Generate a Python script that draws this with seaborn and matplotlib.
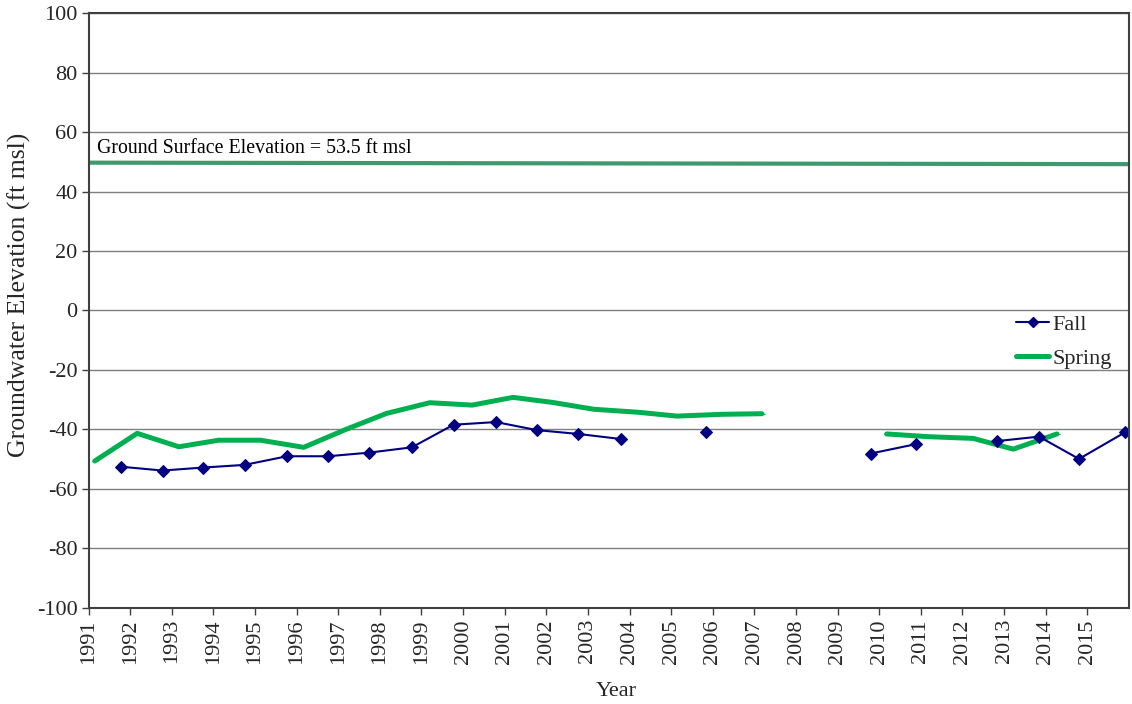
import numpy as np
import pandas as pd
import matplotlib
matplotlib.use("Agg")
import matplotlib.pyplot as plt
from matplotlib.lines import Line2D
import seaborn as sns

# Fall measurements (decimal year, ft msl); NaN marks a missed survey
fall_year = [1991.77, 1992.78, 1993.75, 1994.75, 1995.77, 1996.75, 1997.73, 1998.77,
             1999.77, 2000.79, 2001.77, 2002.77, 2003.79, 2004.80, 2005.84, 2006.80,
             2007.80, 2008.80, 2009.79, 2010.89, 2011.80, 2012.83, 2013.84, 2014.80,
             2015.90]
fall_elev = [-52.5, -53.8, -52.8, -51.9, -49.0, -49.0, -47.8, -46.0,
             -38.4, -37.5, -40.2, -41.5, -43.2, np.nan, -40.8, np.nan,
             np.nan, np.nan, -48.1, -44.9, np.nan, -43.9, -42.4, -49.9,
             -41.0]

# Spring measurements
spring_year = [1991.15, 1992.17, 1993.17, 1994.13, 1995.13, 1996.17, 1997.18, 1998.16,
               1999.20, 2000.22, 2001.20, 2002.15, 2003.14, 2004.20, 2005.14, 2006.21,
               2007.18, 2008.20, 2009.20, 2010.18, 2011.16, 2012.26, 2013.22, 2014.27]
spring_elev = [-50.6, -41.3, -45.8, -43.6, -43.6, -46.0, -40.0, -34.6,
               -31.0, -31.8, -29.2, -30.9, -33.2, -34.2, -35.5, -34.9,
               -34.7, np.nan, np.nan, -41.5, -42.4, -43.0, -46.6, -41.5]

# Ground surface reference line
ground_year = [1991.0, 2016.0]
ground_elev = [49.7, 49.2]
ground_label = "Ground Surface Elevation = 53.5 ft msl"

year_ticks = list(range(1991, 2016))
elev_ticks = list(range(-100, 101, 20))


def segments(years, values):
    """Split a series into runs of consecutive non-missing values."""
    df = pd.DataFrame({"year": years, "elev": values})
    df["seg"] = df["elev"].isna().cumsum()
    return df.dropna().reset_index(drop=True)


FALL_C = "#000080"
SPRING_C = "#00B050"
GROUND_C = "#3E9A6E"

sns.set_theme(style="white")
plt.rcParams["font.family"] = ["Liberation Serif", "DejaVu Serif"]

fig = plt.figure(figsize=(11.32, 7.04), dpi=100)
ax = fig.add_axes([0.0782, 0.1364, 0.9191, 0.8451])

ax.set_axisbelow(True)
ax.yaxis.grid(True, color="#7f7f7f", linewidth=1.0)
ax.xaxis.grid(False)

sns.lineplot(x=ground_year, y=ground_elev, ax=ax, color=GROUND_C, linewidth=3.0,
             legend=False)

spring = segments(spring_year, spring_elev)
sns.lineplot(data=spring, x="year", y="elev", units="seg", estimator=None, ax=ax,
             color=SPRING_C, linewidth=3.6, marker="_", markersize=5,
             markeredgecolor=SPRING_C, legend=False, sort=False)

fall = segments(fall_year, fall_elev)
sns.lineplot(data=fall, x="year", y="elev", units="seg", estimator=None, ax=ax,
             color=FALL_C, linewidth=1.5, marker="D", markersize=6.5,
             markeredgecolor=FALL_C, markerfacecolor=FALL_C, legend=False, sort=False)

ax.text(1991.2, 51.3, ground_label, fontsize=14.3, color="black", va="bottom", ha="left")

ax.set_xlim(1991, 2016)
ax.set_ylim(-100, 100)
ax.set_xticks(year_ticks)
ax.set_xticklabels([str(y) for y in year_ticks], rotation=90, fontsize=16)
ax.set_yticks(elev_ticks)
ax.set_yticklabels([str(v) for v in elev_ticks], fontsize=16)
ax.tick_params(axis="both", direction="out", length=5, width=1, color="#404040",
               bottom=True, left=True, pad=3)
for side in ["left", "bottom", "right", "top"]:
    ax.spines[side].set_visible(True)
    ax.spines[side].set_color("#404040")
    ax.spines[side].set_linewidth(1.5)

ax.set_xlabel("Year", fontsize=16)
ax.set_ylabel("Groundwater Elevation (ft msl)", fontsize=18.5)
ax.xaxis.set_label_coords(0.507, -0.125)
ax.yaxis.set_label_coords(-0.055, 0.527)

handles = [
    Line2D([], [], color=FALL_C, linewidth=1.5, marker="D", markersize=5),
    Line2D([], [], color=SPRING_C, linewidth=3.6),
]
ax.legend(handles, ["Fall", "Spring"], loc="upper left", bbox_to_anchor=(0.883, 0.508),
          frameon=False, fontsize=16, handlelength=1.5, handletextpad=0.15,
          labelspacing=0.6, borderaxespad=0)

fig.savefig("out.png", dpi=100, facecolor="white")
